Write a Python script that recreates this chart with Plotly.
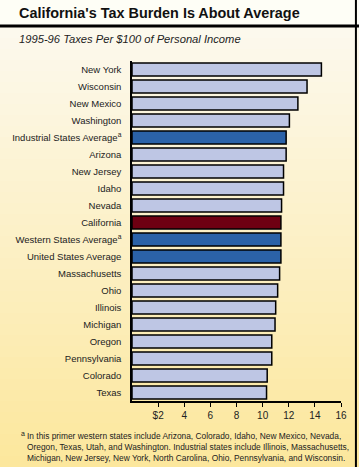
import plotly.graph_objects as go

states = ["New York", "Wisconsin", "New Mexico", "Washington",
          "Industrial States Average<sup>a</sup>", "Arizona", "New Jersey", "Idaho",
          "Nevada", "California", "Western States Average<sup>a</sup>",
          "United States Average", "Massachusetts", "Ohio", "Illinois", "Michigan",
          "Oregon", "Pennsylvania", "Colorado", "Texas"]
taxes = [14.5, 13.4, 12.7, 12.05, 11.8, 11.8, 11.6, 11.6, 11.45, 11.4, 11.4, 11.4,
         11.3, 11.15, 11.0, 10.95, 10.7, 10.7, 10.35, 10.3]
kinds = ["state", "state", "state", "state", "avg", "state", "state", "state",
         "state", "ca", "avg", "avg", "state", "state", "state", "state",
         "state", "state", "state", "state"]
tick_vals = [2, 4, 6, 8, 10, 12, 14, 16]
tick_text = ["$2", "4", "6", "8", "10", "12", "14", "16"]

color_map = {"state": "#BEC6E4", "avg": "#2B62A8", "ca": "#6E0012"}
colors = [color_map[k] for k in kinds]

W, H = 359, 467
fig = go.Figure(go.Bar(
    x=taxes, y=states, orientation="h",
    marker=dict(color=colors, line=dict(color="#000000", width=1.5)),
    hoverinfo="x+y",
))

def py(p):
    # pixel y -> paper y (plot area from 61 to 401)
    return (401 - p) / 340

def px_x(p):
    return (p - 125) / 217

shapes = []
# title band
shapes.append(dict(type="rect", xref="paper", yref="paper", x0=-1, x1=2,
                   y0=py(26), y1=py(-5),
                   fillcolor="#FEFEF6", line_width=0, layer="below"))
# gradient background strips below title
top_px, bot_px = 27, H
n = 40
c0 = (0xFC, 0xF9, 0xEE)
c1 = (0xFC, 0xE7, 0x9C)
for i in range(n):
    a = top_px + (bot_px - top_px) * i / n
    b = top_px + (bot_px - top_px) * (i + 1) / n
    t = (i + 0.5) / n
    c = tuple(round(c0[j] + (c1[j] - c0[j]) * t) for j in range(3))
    shapes.append(dict(type="rect", xref="paper", yref="paper",
                       x0=-1, x1=2, y0=py(b + 0.5), y1=py(a),
                       fillcolor="rgb(%d,%d,%d)" % c, line_width=0, layer="below"))
# title separator
shapes.append(dict(type="line", xref="paper", yref="paper", x0=-1, x1=2,
                   y0=py(26), y1=py(26), line=dict(color="#000", width=3)))
# right border
bx = px_x(357.5)
shapes.append(dict(type="line", xref="paper", yref="paper", x0=bx, x1=bx,
                   y0=py(H + 2), y1=py(-2), line=dict(color="#000", width=2)))

annotations = [
    dict(text="<b>California's Tax Burden Is About Average</b>", xref="paper", yref="paper",
         x=px_x(6), y=py(13), xanchor="left", yanchor="middle", showarrow=False,
         font=dict(family="Liberation Sans, Arial", size=14.4, color="#111")),
    dict(text="<i>1995-96 Taxes Per $100 of Personal Income</i>", xref="paper", yref="paper",
         x=px_x(6), y=py(39), xanchor="left", yanchor="middle", showarrow=False,
         font=dict(family="Liberation Sans, Arial", size=11.2, color="#222")),
    dict(text="a", xref="paper", yref="paper",
         x=px_x(8), y=py(433), xanchor="left", yanchor="middle", showarrow=False,
         font=dict(family="Liberation Sans, Arial", size=7, color="#222")),
    dict(text="In this primer western states include Arizona, Colorado, Idaho, New Mexico, Nevada,<br>"
              "Oregon, Texas, Utah, and Washington. Industrial states include Illinois, Massachusetts,<br>"
              "Michigan, New Jersey, New York, North Carolina, Ohio, Pennsylvania, and Wisconsin.",
         xref="paper", yref="paper", x=px_x(14), y=py(429), xanchor="left", yanchor="top",
         align="left", showarrow=False,
         font=dict(family="Liberation Sans, Arial", size=8.4, color="#222")),
]

fig.update_layout(
    width=W, height=H,
    margin=dict(l=125, r=17, t=61, b=66),
    paper_bgcolor="#FCF3CF", plot_bgcolor="rgba(0,0,0,0)",
    bargap=0.24, showlegend=False,
    shapes=shapes, annotations=annotations,
    font=dict(family="Liberation Sans, Arial", size=10, color="#222"),
    xaxis=dict(range=[0, 16], tickvals=tick_vals, ticktext=tick_text,
               showgrid=False, zeroline=False, showline=True, linecolor="#000",
               linewidth=1.5, ticks="outside", ticklen=4, tickcolor="#000",
               tickfont=dict(size=10, color="#222"), fixedrange=True),
    yaxis=dict(categoryorder="array", categoryarray=states, autorange="reversed",
               showgrid=False, zeroline=False, showline=True, linecolor="#000",
               linewidth=1.5, ticks="", ticklabelstandoff=7,
               tickfont=dict(size=9.5, color="#222"), fixedrange=True),
)

fig.write_html("out.html", config={"displayModeBar": False},
               post_script="document.body.style.margin='0';document.body.style.overflow='hidden';")
